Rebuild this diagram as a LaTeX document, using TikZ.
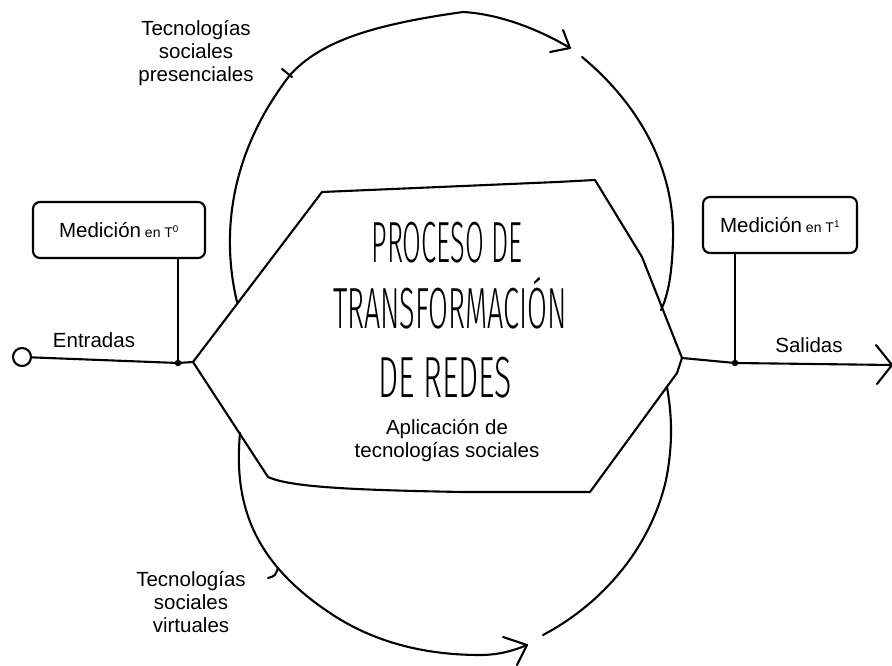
\documentclass[tikz,border=0pt]{standalone}
\usepackage{fontspec}
\setmainfont{Liberation Sans}
\IfFontExistsTF{Fira Sans Light}
  {\newfontfamily\titlefont{Fira Sans Light}}
  {\IfFontExistsTF{FiraSans-Light}
    {\newfontfamily\titlefont{FiraSans-Light}}
    {\IfFontExistsTF{DejaVu Sans ExtraLight}
      {\newfontfamily\titlefont{DejaVu Sans ExtraLight}}
      {\IfFontExistsTF{Lato Light}
        {\newfontfamily\titlefont{Lato Light}}
        {\newfontfamily\titlefont{Liberation Sans}}}}}
\begin{document}
\begin{tikzpicture}[x=1pt,y=-1pt, line width=2.1pt, line cap=round, line join=round,
  lbl/.style={font=\fontsize{20.5}{23}\selectfont, align=center, inner sep=0pt},
  mbox/.style={draw, rounded corners=7pt, minimum height=56pt, inner sep=0pt,
               font=\fontsize{20.5}{23}\selectfont},
  dotn/.style={fill, circle, inner sep=0pt, minimum size=6.5pt},
  title/.style={inner sep=0pt, anchor=base, font=\titlefont\fontsize{58}{60}\selectfont}]
\useasboundingbox (0,0) rectangle (892,666);

% hexagon vertices
\coordinate (hL) at (193,362);
\coordinate (hTL) at (322,192);
\coordinate (hTR) at (595,180);
\coordinate (hR) at (682,358);
\coordinate (hBR) at (590,492);
\coordinate (hBL) at (268,477);
\draw (hL) -- (hTL) -- (557,182) -- (hTR) -- (642,257) -- (hR) -- (677,373) -- (hBR)
      -- (463,492) .. controls (350,490) and (290,487) .. (hBL) -- cycle;

% title texts
\node[title] (t1) at (447,262) {\resizebox{151pt}{\height}{PROCESO DE}};
\node[title] (t2) at (450,328) {\resizebox{234pt}{\height}{TRANSFORMACIÓN}};
\node[title] (t3) at (445,397) {\resizebox{134pt}{\height}{DE REDES}};
\node[lbl] (apl) at (447,441) {Aplicación de\\tecnologías sociales};

% input side
\node[draw, circle, minimum size=18pt, inner sep=0pt] (start) at (22,357) {};
\node[dotn] (dotL) at (178,363) {};
\draw (start) -- (dotL.center) -- (hL);
\node[lbl, anchor=base] (entr) at (94,347) {Entradas};
\node[mbox, minimum width=172pt] (boxL) at (119,230)
  {Medición{\fontsize{14}{16}\selectfont\ en T\textsuperscript{0}}};
\draw (dotL.center) -- (dotL.center |- boxL.south);

% output side
\node[dotn] (dotR) at (735,363) {};
\coordinate (tipR) at (892,365);
\draw (hR) -- (dotR.center) -- (tipR);
\draw (876,345) -- (tipR) -- (877,384);
\node[lbl, anchor=base] (sal) at (809,352) {Salidas};
\node[mbox, minimum width=154pt] (boxR) at (780,225)
  {Medición{\fontsize{14}{16}\selectfont\ en T\textsuperscript{1}}};
\draw (dotR.center) -- (dotR.center |- boxR.south);

% top loop
\coordinate (tipT) at (570,48);
\draw (237,302) .. controls (220,230) and (232,150) .. (290,75)
      .. controls (320,42) and (370,25) .. (463,12)
      .. controls (500,14) and (540,30) .. (tipT);
\draw (563,30) -- (tipT) -- (550,52);
\draw (582,57) .. controls (640,105) and (675,170) .. (673,240)
      .. controls (672,275) and (668,295) .. (661,310);
\draw (282,69) -- (292,77);
\node[lbl] (tsp) at (196,53) {Tecnologías\\sociales\\presenciales};

% bottom loop
\coordinate (tipB) at (527,645);
\draw (240,433) .. controls (234,500) and (250,560) .. (330,613)
      .. controls (370,640) and (420,655) .. (480,655)
      .. controls (500,655) and (515,650) .. (tipB);
\draw (503,637) -- (tipB) -- (517,665);
\draw (543,635) .. controls (600,605) and (650,550) .. (666,480)
      .. controls (674,440) and (671,410) .. (667,387);
\draw (268,578) .. controls (275,576) .. (278,568);
\node[lbl] (tsv) at (191,602) {Tecnologías\\sociales\\virtuales};
\end{tikzpicture}
\end{document}
